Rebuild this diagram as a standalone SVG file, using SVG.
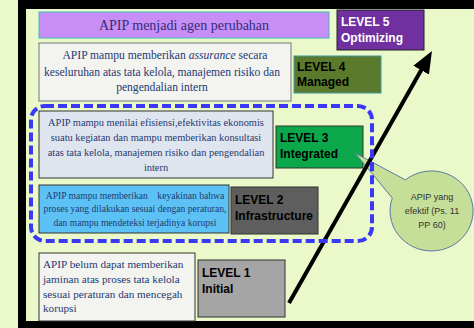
<svg xmlns="http://www.w3.org/2000/svg" width="474" height="328" viewBox="0 0 474 328">
<style>
.ser{font-family:"Liberation Serif","Times New Roman",serif;fill:#1f3a72}
.lvl{font-family:"Liberation Sans",Arial,sans-serif;font-weight:bold;font-size:12px;fill:#000}
.box{stroke:#333;stroke-width:1}
</style>
<defs>
<marker id="ah" viewBox="0 0 22 18" refX="2" refY="9" markerWidth="22" markerHeight="18" markerUnits="userSpaceOnUse" orient="auto">
<path d="M0,0 L22,9 L0,18 Z" fill="#000"/>
</marker>
</defs>
<rect x="0" y="0" width="474" height="328" fill="#ebf8c9"/>
<g id="frame" fill="#000">
<rect x="18" y="0" width="456" height="9"/>
<rect x="18" y="0" width="8" height="328"/>
<rect x="18" y="321" width="456" height="7"/>
</g>
<g id="title">
<rect x="39" y="12" width="290" height="26" fill="#c98ef6" stroke="#3cbcc0" stroke-width="1"/>
<text class="ser" x="184" y="30" font-size="14" text-anchor="middle" style="fill:#2e2e78">APIP menjadi agen perubahan</text>
</g>
<g id="level5">
<rect x="337" y="10" width="87" height="40" fill="#7030a0" stroke="#222" stroke-width="1"/>
<text class="lvl" x="341" y="26" style="fill:#fff">LEVEL 5</text>
<text class="lvl" x="341" y="42" style="fill:#fff">Optimizing</text>
</g>
<g id="desc4">
<rect x="39" y="43" width="252" height="58" fill="#f3f3ef" stroke="#777" stroke-width="1"/>
<text class="ser" font-size="11.6" text-anchor="middle"><tspan x="165" y="59">APIP mampu memberikan <tspan font-style="italic">assurance</tspan> secara</tspan><tspan x="162" y="76">keseluruhan atas tata kelola, manajemen risiko dan</tspan><tspan x="162" y="91">pengendalian intern</tspan></text>
</g>
<g id="level4">
<rect x="294" y="56" width="87" height="37" fill="#5c7a2c" stroke="#3a9aa0" stroke-width="1"/>
<text class="lvl" x="297" y="71">LEVEL 4</text>
<text class="lvl" x="297" y="86">Managed</text>
</g>
<g id="desc3">
<rect x="39" y="111" width="234" height="67" fill="#dfe5ee" class="box" stroke-width="1.5"/>
<text class="ser" font-size="10.4" text-anchor="middle"><tspan x="156" y="126">APIP mampu menilai efisiensi,efektivitas ekonomis</tspan><tspan x="156" y="141">suatu kegiatan dan mampu memberikan konsultasi</tspan><tspan x="156" y="156">atas tata kelola, manajemen risiko dan pengendalian</tspan><tspan x="156" y="171">intern</tspan></text>
</g>
<g id="level3">
<rect x="276" y="126" width="87" height="42" fill="#0aa84a" class="box"/>
<text class="lvl" x="280" y="142">LEVEL 3</text>
<text class="lvl" x="280" y="158">Integrated</text>
</g>
<g id="desc2">
<rect x="39" y="185" width="190" height="48" fill="#5cc2f5" class="box"/>
<text class="ser" font-size="9.6" text-anchor="middle" style="white-space:pre"><tspan x="135" y="199">APIP mampu memberikan    keyakinan bahwa</tspan><tspan x="135" y="212">proses yang dilakukan sesuai dengan peraturan,</tspan><tspan x="135" y="226">dan mampu mendeteksi terjadinya korupsi</tspan></text>
</g>
<g id="level2">
<rect x="231" y="187" width="87" height="47" fill="#5e5e5e" class="box"/>
<text class="lvl" x="235" y="204">LEVEL 2</text>
<text class="lvl" x="235" y="220">Infrastructure</text>
</g>
<g id="desc1">
<rect x="39" y="253" width="156" height="68" fill="#f3f3ef" class="box"/>
<text class="ser" font-size="11.2"><tspan x="43" y="268">APIP belum dapat memberikan</tspan><tspan x="43" y="283">jaminan atas proses tata kelola</tspan><tspan x="43" y="298">sesuai peraturan dan mencegah</tspan><tspan x="43" y="312">korupsi</tspan></text>
</g>
<g id="level1">
<rect x="198" y="260" width="87" height="57" fill="#a5a5a5" class="box"/>
<text class="lvl" x="202" y="277">LEVEL 1</text>
<text class="lvl" x="202" y="293">Initial</text>
</g>
<g id="callout">
<path d="M405.4,179.9 L355,153 L392.3,198 A41.5,40 0 1 0 405.4,179.9 Z" fill="#c5df98" stroke="#5a7aa0" stroke-width="1"/>
<text font-family="Liberation Sans, Arial, sans-serif" font-size="9" fill="#333" text-anchor="middle"><tspan x="432" y="200">APIP yang</tspan><tspan x="432" y="214">efektif (Ps. 11</tspan><tspan x="432" y="228">PP 60)</tspan></text>
</g>
<g id="connectors">
<line x1="289" y1="303" x2="422.1" y2="68.4" stroke="#000" stroke-width="4" marker-end="url(#ah)"/>
<rect x="31" y="106" width="341" height="135" rx="14" fill="none" stroke="#3838f6" stroke-width="4" stroke-dasharray="9 4"/>
</g>
</svg>
